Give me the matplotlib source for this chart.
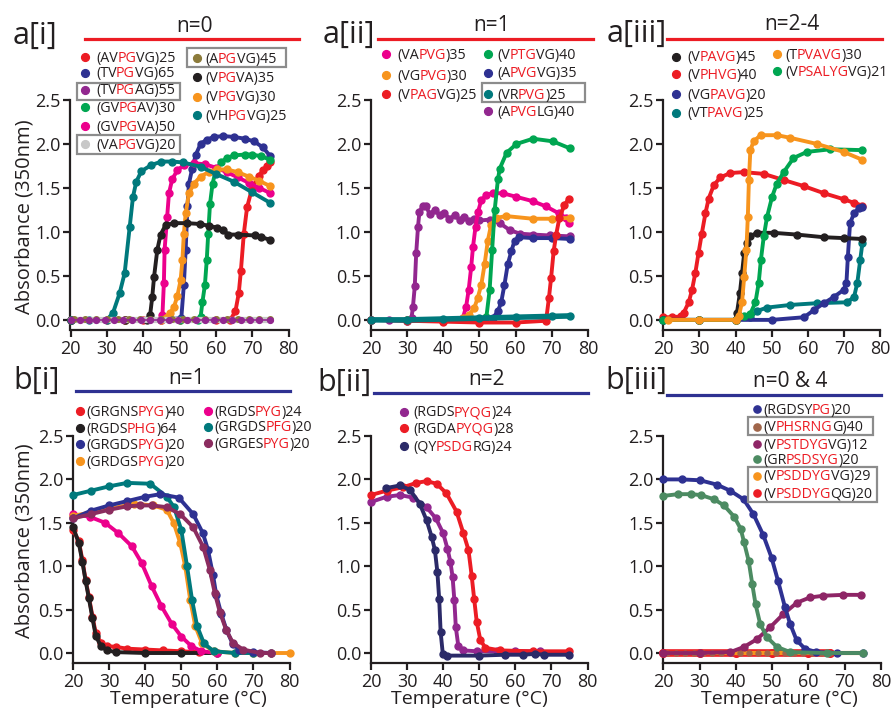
import re
import numpy as np
import matplotlib
matplotlib.use("Agg")

import matplotlib.pyplot as plt
from matplotlib.lines import Line2D
from matplotlib.patches import Rectangle
from matplotlib.ticker import FormatStrFormatter
from matplotlib.font_manager import FontProperties, findfont, get_font

plt.rcParams['font.family'] = ['Open Sans', 'DejaVu Sans']

W, H = 895, 709

RED = '#EC1C24'
NAVY = '#2E3192'
MAGENTA = '#EC008C'
ORANGE = '#F7941D'
GREEN = '#00A651'
TEAL = '#00797C'
BLACK = '#231F20'
PURPLE = '#92278F'
GRAY = '#C8C8C8'
OLIVE = '#8C7B3B'
MAROON = '#8B2C5F'
DKNAVY = '#2B2A68'
BROWN = '#A0654A'
PLUM = '#8E2566'
SAGE = '#4C8B62'
BOX = '#8C8C8C'

# ---- a[i]  n=0 ----
t_avpgvg25 = [20, 30, 40, 50, 60, 64, 65.4, 66.3, 66.9, 67.7, 68.6, 70, 71.8, 73, 74.1, 75]
a_avpgvg25 = [0, 0, 0, 0, 0, 0.0, 0.1, 0.3, 0.56, 0.98, 1.28, 1.5, 1.64, 1.7, 1.75, 1.8]
t_tvpgvg65 = [20, 35, 45, 50.5, 51.2, 51.7, 52.2, 52.6, 53.5, 54.5, 55.8, 57.5, 59.5, 62, 65, 68, 70.5, 73, 75]
a_tvpgvg65 = [0, 0, 0, 0.02, 0.4, 0.8, 1.3, 1.55, 1.72, 1.88, 2.0, 2.05, 2.08, 2.09, 2.08, 2.06, 2.03, 1.96, 1.86]
t_gvpgav30 = [20, 35, 50, 55, 55.8, 56.3, 57, 57.5, 57.9, 58.4, 59.1, 60, 61.4, 63, 65, 68, 70, 72.5, 75]
a_gvpgav30 = [0, 0, 0, 0, 0.03, 0.2, 0.4, 0.68, 0.98, 1.32, 1.55, 1.7, 1.79, 1.84, 1.87, 1.88, 1.88, 1.86, 1.82]
t_gvpgva50 = [20, 35, 44.8, 45.3, 45.7, 45.9, 46.6, 47.1, 48, 49.4, 51.2, 54, 57, 60, 63, 66, 69, 72, 75]
a_gvpgva50 = [0, 0, 0, 0.05, 0.42, 0.8, 1.17, 1.44, 1.6, 1.7, 1.76, 1.78, 1.77, 1.73, 1.68, 1.62, 1.56, 1.5, 1.44]
t_vpgvg30 = [20, 35, 45, 47.5, 48.5, 49.4, 50.3, 50.8, 51.2, 51.7, 52.6, 54, 55.8, 58, 60.4, 63, 66, 69, 72, 75]
a_vpgvg30 = [0, 0, 0, 0.08, 0.15, 0.27, 0.45, 0.68, 0.98, 1.21, 1.44, 1.55, 1.63, 1.68, 1.71, 1.71, 1.68, 1.63, 1.58, 1.52]
t_vpgva35 = [20, 35, 41, 41.9, 42.5, 43, 43.9, 44.8, 46.2, 48.5, 52, 55.7, 58, 60.3, 62, 63.4, 66, 70.7, 72.5, 75]
a_vpgva35 = [0, 0, 0, 0.05, 0.26, 0.49, 0.8, 0.97, 1.08, 1.1, 1.1, 1.09, 1.07, 1.05, 1.02, 0.97, 0.97, 0.96, 0.94, 0.91]
t_vhpgvg25 = [20, 25, 30, 31.7, 33.5, 34.9, 36.3, 37.2, 38.1, 39.5, 42.2, 45, 48, 51, 55.8, 60, 65, 70, 75]
a_vhpgvg25 = [0, 0, 0, 0.08, 0.3, 0.53, 1.06, 1.4, 1.57, 1.69, 1.76, 1.8, 1.8, 1.79, 1.74, 1.66, 1.57, 1.45, 1.33]
t_vapgvg20 = [20, 75]
a_vapgvg20 = [0.0, 0.0]
t_apgvg45 = [21, 24, 27, 30, 33, 36, 39, 42, 45, 48, 51, 54, 57, 60, 63, 66, 69, 72, 75]
a_apgvg45 = [0.01, 0.01, 0.01, 0.01, 0.01, 0.01, 0.01, 0.01, 0.01, 0.01, 0.01, 0.01, 0.01, 0.01, 0.01, 0.01, 0.01, 0.01, 0.01]
t_tvpgag55 = [20, 22.5, 25, 27, 29.5, 32, 34.5, 37, 39.5, 42, 44.5, 47, 49.5, 52, 54.5, 57, 59.5, 62, 64.5, 67, 69.5, 72, 75]
a_tvpgag55 = [0, 0, 0, 0, 0, 0, 0, 0, 0, 0, 0, 0, 0, 0, 0, 0, 0, 0, 0, 0, 0, 0, 0]

# ---- a[ii]  n=1 ----
t_apvglg40 = [20, 25, 30, 31.2, 31.6, 32.1, 32.5, 33, 33.4, 34.4, 35.3, 36.2, 37.6, 39, 40.3, 41.7, 43.1, 44.5,
              45.8, 47.2, 48.6, 50, 52.9, 55.6, 58.4, 61.2, 64.8, 69.4, 75]
a_apvglg40 = [0, 0, 0, 0.02, 0.15, 0.38, 0.76, 1.06, 1.23, 1.3, 1.29, 1.2, 1.25, 1.19, 1.21, 1.15, 1.19, 1.14,
              1.17, 1.12, 1.15, 1.13, 1.14, 1.1, 1.02, 0.98, 0.97, 0.96, 0.95]
t_vapvg35 = [20, 30, 40, 45.4, 46.3, 47, 47.7, 48.2, 48.9, 49.6, 50.5, 51.9, 53.7, 56.4, 60.1, 64.7, 68.4, 72, 73.9, 74.8]
a_vapvg35 = [0, 0, 0, 0.02, 0.15, 0.34, 0.6, 0.83, 1.06, 1.23, 1.36, 1.42, 1.44, 1.44, 1.4, 1.35, 1.29, 1.21, 1.16, 1.1]
t_vgpvg30 = [20, 30, 40, 45.4, 47.2, 48.6, 49.5, 50.5, 51.4, 52.3, 53.2, 54.6, 57.4, 64.7, 70, 75]
a_vgpvg30 = [0, 0, 0, 0.02, 0.06, 0.14, 0.25, 0.4, 0.63, 0.9, 1.08, 1.16, 1.18, 1.15, 1.15, 1.16]
t_vptgvg40 = [20, 30, 40, 50, 51.9, 52.8, 53.5, 54.2, 55.1, 55.6, 57.5, 60.2, 64.8, 70.3, 75]
a_vptgvg40 = [0, 0, 0, 0, 0.03, 0.34, 0.8, 1.25, 1.6, 1.72, 1.9, 2.0, 2.06, 2.03, 1.95]
t_apvgvg35 = [20, 30, 40, 50, 53.7, 55.1, 56, 56.9, 57.8, 58.8, 59.7, 61, 64.7, 70, 75]
a_apvgvg35 = [0, -0.01, -0.01, 0, 0.02, 0.1, 0.2, 0.4, 0.63, 0.78, 0.9, 0.94, 0.93, 0.93, 0.92]
t_vpagvg25 = [20, 30, 40, 50, 60, 68.4, 69.2, 69.8, 70.5, 71.2, 72.1, 73.5, 74.8]
a_vpagvg25 = [0, -0.01, -0.02, -0.03, -0.03, -0.01, 0.25, 0.48, 0.78, 0.97, 1.16, 1.31, 1.38]
t_vrpvg25 = [20, 30, 40, 50, 60, 70, 75]
a_vrpvg25 = [0.0, 0.0, 0.01, 0.02, 0.03, 0.04, 0.045]

# ---- a[iii]  n=2-4 ----
t_vpavg45 = [20, 30, 40, 40.4, 41.2, 41.8, 42.4, 43.2, 44.1, 45.9, 50.5, 56.9, 64.3, 69.8, 75]
a_vpavg45 = [0, 0, 0, 0.08, 0.3, 0.53, 0.76, 0.87, 0.95, 0.99, 0.99, 0.97, 0.94, 0.93, 0.92]
t_vphvg40 = [20, 22.5, 25, 25.7, 27.1, 28, 28.9, 29.8, 30.7, 31.7, 32.6, 34, 35.8, 38.6, 42.3, 47.8, 53.3,
             58.9, 64.4, 70, 72.7, 75]
a_vphvg40 = [0.03, 0.03, 0.04, 0.08, 0.2, 0.34, 0.53, 0.76, 0.98, 1.21, 1.38, 1.53, 1.62, 1.67, 1.68, 1.66, 1.59,
             1.52, 1.44, 1.37, 1.33, 1.3]
t_vgpavg20 = [20, 30, 40, 50, 58.9, 61.6, 64.4, 67.1, 69.8, 70.6, 71, 71.6, 72.7, 74.1, 75]
a_vgpavg20 = [0, 0, 0, 0, 0.03, 0.11, 0.19, 0.26, 0.34, 0.42, 0.72, 1.1, 1.21, 1.27, 1.28]
t_vtpavg25 = [20, 30, 40, 44.1, 45.9, 48.7, 55.1, 62.5, 70.8, 72.7, 73.6, 74.4, 75]
a_vtpavg25 = [0, 0, 0, 0.03, 0.1, 0.14, 0.17, 0.19, 0.2, 0.26, 0.42, 0.68, 0.87]
t_tpvavg30 = [21.5, 30, 40, 40.9, 41.8, 42.4, 43, 43.4, 43.7, 44.1, 45, 46.9, 51.5, 55.1, 62.5, 69.8, 75]
a_tpvavg30 = [0, 0, 0, 0.04, 0.2, 0.49, 0.8, 1.17, 1.59, 1.93, 2.03, 2.1, 2.1, 2.07, 2.0, 1.91, 1.82]
t_vpsalygvg21 = [20, 30, 40, 42.3, 44.1, 45.5, 46.4, 47, 47.8, 48.7, 50.1, 51.4, 53.3, 56, 59.7, 66.2, 75]
a_vpsalygvg21 = [0, 0, 0, 0.04, 0.07, 0.2, 0.42, 0.68, 0.95, 1.17, 1.4, 1.55, 1.68, 1.84, 1.91, 1.94, 1.93]

# ---- b[i]  n=1 ----
t_grgnspyg40 = [20, 21.6, 22.6, 23.5, 24.4, 25.4, 26.3, 27.7, 29.5, 32, 35, 40, 45, 50, 55]
a_grgnspyg40 = [1.42, 1.29, 1.07, 0.84, 0.65, 0.42, 0.23, 0.12, 0.08, 0.07, 0.05, 0.04, 0.03, 0.02, 0.01]
t_rgdsphg64 = [20, 21.6, 22.6, 23.5, 24.4, 25.4, 26.3, 27.7, 29.5, 32, 40, 50, 60]
a_rgdsphg64 = [1.45, 1.27, 1.05, 0.83, 0.63, 0.4, 0.2, 0.08, 0.03, 0.01, 0.0, 0.0, 0.0]
t_grgdspyg20 = [20, 25, 30, 35, 40, 44.2, 49.3, 53.3, 56, 57.4, 58.8, 59.7, 61.1, 62.5, 64.3, 66.1, 70, 75]
a_grgdspyg20 = [1.55, 1.64, 1.7, 1.75, 1.8, 1.83, 1.79, 1.6, 1.38, 1.19, 0.9, 0.67, 0.45, 0.27, 0.1, 0.04, 0.01, 0.0]
t_grdgspyg20 = [20, 25, 30, 37, 42.2, 46, 47.9, 49.7, 51.1, 52.5, 53.9, 55.8, 59, 65, 70, 75, 80]
a_grdgspyg20 = [1.58, 1.62, 1.66, 1.72, 1.7, 1.65, 1.5, 1.27, 1.0, 0.61, 0.31, 0.11, 0.02, 0.0, 0.0, 0.0, 0.0]
t_rgdspyg24 = [20, 24.6, 28.9, 32.6, 36.3, 39, 41.8, 44.5, 47.3, 50, 52.8, 55.6, 60]
a_rgdspyg24 = [1.6, 1.57, 1.5, 1.38, 1.23, 1.04, 0.77, 0.54, 0.34, 0.19, 0.08, 0.02, 0.0]
t_grgdspfg20 = [20, 25, 30, 35, 41.4, 46, 48, 50, 51.6, 53, 54.4, 56.3, 59, 65, 70]
a_grgdspfg20 = [1.82, 1.87, 1.92, 1.96, 1.95, 1.8, 1.68, 1.42, 1.0, 0.61, 0.31, 0.11, 0.02, 0.0, 0.0]
t_grgespyg20 = [20, 25, 30, 35, 38.5, 42, 46, 49.7, 53.3, 56.1, 57.9, 59.3, 60.7, 62.5, 64.3, 67.1, 71.8, 75]
a_grgespyg20 = [1.55, 1.6, 1.65, 1.69, 1.7, 1.7, 1.68, 1.6, 1.45, 1.22, 0.96, 0.69, 0.47, 0.26, 0.12, 0.04, 0.0, 0.0]

# ---- b[ii]  n=2 ----
t_rgdspyqg24 = [20, 24.3, 28, 31.7, 35.4, 38, 40, 41.2, 42, 42.6, 43.1, 43.5, 44.2, 45.6, 49.3, 55, 60, 66.9]
a_rgdspyqg24 = [1.74, 1.8, 1.82, 1.79, 1.68, 1.55, 1.38, 1.2, 1.05, 0.88, 0.61, 0.3, 0.08, 0.03, 0.02, 0.02, 0.02, 0.02]
t_rgdapyqg28 = [20, 24.3, 28.9, 32.6, 35.4, 38.2, 40.9, 43.7, 45.6, 47, 47.9, 48.6, 49.3, 50.3, 51.7, 55.8, 65, 75]
a_rgdapyqg28 = [1.82, 1.87, 1.91, 1.96, 1.98, 1.95, 1.84, 1.63, 1.38, 1.19, 0.89, 0.62, 0.36, 0.15, 0.06, 0.03, 0.02, 0.02]
t_qypsdgrg24 = [24.2, 28, 30.8, 33.5, 35.4, 36.8, 37.7, 38.4, 38.9, 39.3, 39.9, 41, 50, 57, 62, 65.5, 68, 75]
a_qypsdgrg24 = [1.9, 1.93, 1.88, 1.72, 1.53, 1.34, 1.19, 0.93, 0.62, 0.24, -0.01, -0.03, -0.03, -0.02, -0.02,
                -0.01, -0.02, -0.02]

# ---- b[iii]  n=0 & 4 ----
t_rgdsypg20 = [20, 25, 30.1, 34.7, 38.4, 42.1, 44.8, 47.5, 49.8, 51.6, 53.5, 54.9, 56.7, 59, 62.2, 68, 75]
a_rgdsypg20 = [2.0, 2.0, 1.99, 1.94, 1.87, 1.77, 1.6, 1.36, 1.1, 0.83, 0.53, 0.34, 0.15, 0.05, 0.01, 0.0, 0.0]
t_grpsdsyg20 = [20, 24, 27.6, 30.3, 34, 36.7, 39.5, 41.3, 42.2, 43.5, 44.5, 45.4, 46.7, 48.6, 51.3, 55, 65, 75]
a_grpsdsyg20 = [1.81, 1.83, 1.83, 1.82, 1.77, 1.7, 1.57, 1.43, 1.28, 1.06, 0.79, 0.56, 0.33, 0.18, 0.07, 0.01, 0.0, 0.0]
t_vpstdygvg12 = [20, 30, 38.4, 42.2, 45.8, 49.5, 53.1, 56.8, 60.4, 64.1, 69.6, 74.6]
a_vpstdygvg12 = [0, 0, 0.01, 0.07, 0.16, 0.3, 0.45, 0.58, 0.64, 0.66, 0.67, 0.67]
t_vphsrngg40 = [21, 23.5, 26, 28.5, 31, 33.5, 36, 38.5, 41, 43.5, 46, 48.5, 51, 53.5, 56, 58.5, 61, 63.5, 66]
a_vphsrngg40 = [0, 0, 0, 0, 0, 0, 0, 0, 0, 0, 0, 0, 0, 0, 0, 0, 0, 0, 0]
t_vpsddygvg29 = [20, 30, 40, 50, 60, 70, 75]
a_vpsddygvg29 = [0, 0, 0, 0, 0, 0, 0]
t_vpsddygqg20 = [20, 30, 40, 50, 60, 66]
a_vpsddygqg20 = [0, 0, 0, 0, 0, 0]

fig = plt.figure(figsize=(W / 100, H / 100), dpi=100)
leg_font = get_font(findfont(FontProperties(family='Open Sans')))


def fx(x):
    return x / W


def fy(y):
    return 1 - y / H


def make_axes(l, t, r, b):
    ax = fig.add_axes([fx(l), fy(b), (r - l) / W, (b - t) / H])
    ax.set_xlim(20, 80)
    ax.set_ylim(-0.115, 2.5)
    ax.set_xticks(range(20, 81, 10))
    ax.set_yticks([0, 0.5, 1.0, 1.5, 2.0, 2.5])
    ax.yaxis.set_major_formatter(FormatStrFormatter('%.1f'))
    for s in ['top', 'right']:
        ax.spines[s].set_visible(False)
    for s in ['left', 'bottom']:
        ax.spines[s].set_linewidth(1.6)
        ax.spines[s].set_color(BLACK)
    ax.tick_params(direction='out', length=5, width=1.6, labelsize=13,
                   pad=2, colors=BLACK)
    ax.patch.set_visible(False)
    return ax


def curve(ax, t, a, color, lw=2.8, ms=5.0, marker='o', zorder=3):
    ax.plot(t, a, color=color, lw=lw, marker=marker, ms=ms, mec=color,
            clip_on=False, zorder=zorder, solid_capstyle='round')


def pen_x(s, size):
    # glyph pen positions (pixels) of the laid-out string
    leg_font.clear()
    leg_font.set_size(size, 100)
    xys = np.asarray(leg_font.set_text(s, 0.0), dtype=float).reshape(-1, 2)
    return xys[:, 0] / 64.0


def rich_text(x, y, label, size=10.3):
    # text inside brackets is drawn in red, the rest in black
    m = re.match(r'(.*)\[(.*)\](.*)', label)
    pre, mid, post = m.groups()
    full = pre + mid + post
    px = pen_x(full, size)
    starts = [0, len(pre), len(pre) + len(mid)]
    for seg, i0, color in zip([pre, mid, post], starts, [BLACK, RED, BLACK]):
        if not seg:
            continue
        nudge = -0.6 if i0 else 0.0
        fig.text(fx(x + px[i0] + nudge), fy(y + 4.6), seg, color=color,
                 fontsize=size, ha='left', va='baseline')


def legend_col(dot_x, text_x, rows, entries, ms=5.6):
    for y, (label, color) in zip(rows, entries):
        fig.add_artist(Line2D([fx(dot_x)], [fy(y)], marker='o', ms=ms,
                              color=color, ls='none', transform=fig.transFigure))
        rich_text(text_x, y, label)


def box(l, t, r, b):
    fig.add_artist(Rectangle((fx(l), fy(b)), (r - l) / W, (b - t) / H, fill=False,
                             ec=BOX, lw=1.6, transform=fig.transFigure))


def header(lab, lab_x, lab_y, title, title_x, title_y, line_x0, line_x1, line_y, color):
    fig.text(fx(lab_x), fy(lab_y), lab, fontsize=22, va='baseline', ha='left', color=BLACK)
    fig.text(fx(title_x), fy(title_y), title, fontsize=15, va='baseline', ha='center', color=BLACK)
    fig.add_artist(Line2D([fx(line_x0), fx(line_x1)], [fy(line_y), fy(line_y)],
                          color=color, lw=2.3, transform=fig.transFigure))


# a[i]
ax = make_axes(70.5, 100, 288.5, 330)
curve(ax, t_avpgvg25, a_avpgvg25, RED)
curve(ax, t_tvpgvg65, a_tvpgvg65, NAVY)
curve(ax, t_gvpgav30, a_gvpgav30, GREEN)
curve(ax, t_gvpgva50, a_gvpgva50, MAGENTA)
curve(ax, t_vpgvg30, a_vpgvg30, ORANGE)
curve(ax, t_vpgva35, a_vpgva35, BLACK)
curve(ax, t_vhpgvg25, a_vhpgvg25, TEAL)
curve(ax, t_vapgvg20, a_vapgvg20, GRAY, lw=4.5, ms=0)
curve(ax, t_apgvg45, a_apgvg45, OLIVE, lw=0, ms=4)
curve(ax, t_tvpgag55, a_tvpgag55, PURPLE, lw=1.2, ms=4.2)
header('a[i]', 13, 44, 'n=0', 195, 32, 85, 299, 39, RED)
legend_col(85, 96, [57, 72.5, 89.5, 107, 126, 144],
           [('(AV[PG]VG)25', RED), ('(TV[PG]VG)65', NAVY), ('(TV[PG]AG)55', PURPLE),
            ('(GV[PG]AV)30', GREEN), ('(GV[PG]VA)50', MAGENTA), ('(VA[PG]VG)20', GRAY)])
legend_col(197, 205, [58, 77, 96.5, 115],
           [('(A[PG]VG)45', OLIVE), ('(V[PG]VA)35', BLACK), ('(V[PG]VG)30', ORANGE),
            ('(VH[PG]VG)25', TEAL)])
box(187, 48, 286, 67)
box(77, 83, 180, 100)
box(77, 135, 180, 154)

# a[ii]
ax = make_axes(371, 100, 588, 330)
curve(ax, t_apvglg40, a_apvglg40, PURPLE)
curve(ax, t_vapvg35, a_vapvg35, MAGENTA)
curve(ax, t_vgpvg30, a_vgpvg30, ORANGE)
curve(ax, t_vptgvg40, a_vptgvg40, GREEN)
curve(ax, t_apvgvg35, a_apvgvg35, NAVY)
curve(ax, t_vpagvg25, a_vpagvg25, RED)
curve(ax, t_vrpvg25, a_vrpvg25, TEAL, lw=4)
header('a[ii]', 323, 43, 'n=1', 492, 31, 378, 593, 39, RED)
legend_col(386, 397, [54.3, 75, 94.3],
           [('(VA[PVG])35', MAGENTA), ('(VG[PVG])30', ORANGE), ('(V[PAG]VG)25', RED)])
legend_col(488, 497, [54.3, 72.7, 94.3, 111],
           [('(V[PTG]VG)40', GREEN), ('(A[PVG]VG)35', NAVY), ('(VR[PVG])25', TEAL),
            ('(A[PVG]LG)40', PURPLE)])
box(482, 83, 585, 102)

# a[iii]
ax = make_axes(663, 100, 880.5, 330)
curve(ax, t_vphvg40, a_vphvg40, RED)
curve(ax, t_vtpavg25, a_vtpavg25, TEAL)
curve(ax, t_vgpavg20, a_vgpavg20, NAVY)
curve(ax, t_vpavg45, a_vpavg45, BLACK)
curve(ax, t_vpsalygvg21, a_vpsalygvg21, GREEN)
curve(ax, t_tpvavg30, a_tpvavg30, ORANGE)
header('a[iii]', 607, 42, 'n=2-4', 792, 30, 667, 882, 39, RED)
legend_col(676, 687, [56.7, 74, 94, 112.7],
           [('(V[PAVG])45', BLACK), ('(V[PHVG])40', RED), ('(VG[PAVG])20', NAVY),
            ('(VT[PAVG])25', TEAL)])
legend_col(777, 785, [54.3, 71],
           [('(T[PVAVG])30', ORANGE), ('(V[PSALYG]VG)21', GREEN)])

# b[i]
ax = make_axes(73, 436, 289.5, 663)
curve(ax, t_grgnspyg40, a_grgnspyg40, RED)
curve(ax, t_rgdsphg64, a_rgdsphg64, BLACK)
curve(ax, t_rgdspyg24, a_rgdspyg24, MAGENTA)
curve(ax, t_grdgspyg20, a_grdgspyg20, ORANGE)
curve(ax, t_grgdspfg20, a_grgdspfg20, TEAL)
curve(ax, t_grgdspyg20, a_grgdspyg20, NAVY)
curve(ax, t_grgespyg20, a_grgespyg20, MAROON)
header('b[i]', 13, 389, 'n=1', 187, 384, 76, 290, 391, NAVY)
legend_col(80, 86, [411, 428.3, 444, 461],
           [('(GRGNS[PYG])40', RED), ('(RGDS[PHG])64', BLACK), ('(GRGDS[PYG])20', NAVY),
            ('(GRDGS[PYG])20', ORANGE)])
legend_col(208, 214, [411, 426.7, 443.3],
           [('(RGDS[PYG])24', MAGENTA), ('(GRGDS[PFG])20', TEAL), ('(GRGES[PYG])20', MAROON)])

# b[ii]
ax = make_axes(371, 436, 587.5, 663)
curve(ax, t_rgdspyqg24, a_rgdspyqg24, PURPLE)
curve(ax, t_rgdapyqg28, a_rgdapyqg28, RED)
curve(ax, t_qypsdgrg24, a_qypsdgrg24, DKNAVY)
header('b[ii]', 317, 391, 'n=2', 487, 385, 374, 588, 393, NAVY)
legend_col(404, 413, [411.7, 428.3, 446],
           [('(RGDS[PYQG])24', PURPLE), ('(RGDA[PYQG])28', RED), ('(QY[PSDG]RG)24', DKNAVY)])

# b[iii]
ax = make_axes(663.5, 436, 881, 663)
curve(ax, t_vpsddygqg20, a_vpsddygqg20, RED, lw=5.5, ms=5.5)
curve(ax, t_vpsddygvg29, a_vpsddygvg29, ORANGE, lw=3, ms=0)
curve(ax, t_vphsrngg40, a_vphsrngg40, BROWN, lw=0, ms=3.6)
curve(ax, t_vpstdygvg12, a_vpstdygvg12, PLUM)
curve(ax, t_rgdsypg20, a_rgdsypg20, NAVY)
curve(ax, t_grpsdsyg20, a_grpsdsyg20, SAGE)
header('b[iii]', 605, 389, 'n=0 & 4', 790, 387, 667, 881, 395, NAVY)
legend_col(757, 763, [409, 426.7, 444, 459.3, 475.7, 493.3],
           [('(RGDSY[PG])20', NAVY), ('(V[PHSRNG]G)40', BROWN), ('(V[PSTDYG]VG)12', PLUM),
            ('(GR[PSDSYG])20', SAGE), ('(V[PSDDYG]VG)29', ORANGE), ('(V[PSDDYG]QG)20', RED)],
           ms=5.2)
box(748, 417, 873, 435)
box(748, 467, 877, 502)

# shared axis labels
for yc in [217, 541]:
    fig.text(fx(25), fy(yc), 'Absorbance (350nm)', rotation=90, ha='center',
             va='center', fontsize=14.5, color=BLACK)
for xc in [188, 469, 779]:
    fig.text(fx(xc), fy(704), 'Temperature (°C)', ha='center', va='baseline',
             fontsize=14, color=BLACK)

fig.savefig('out.png', dpi=100)
